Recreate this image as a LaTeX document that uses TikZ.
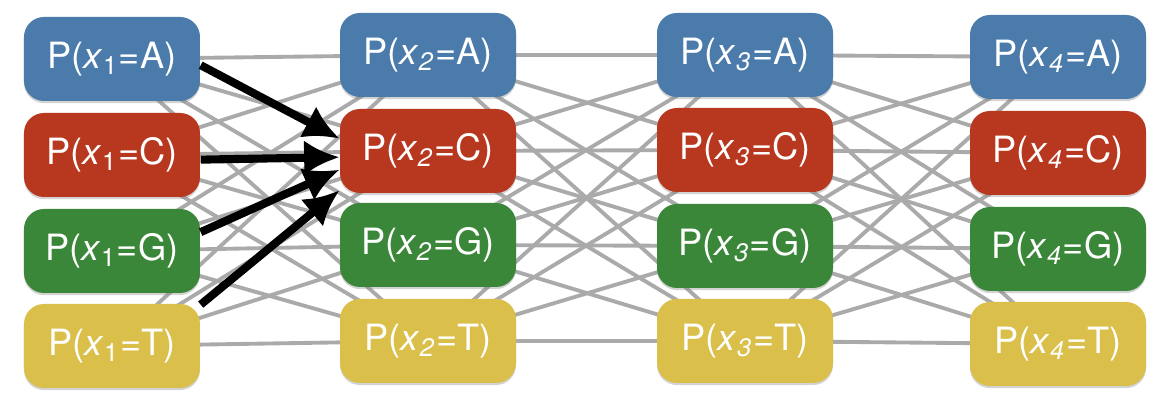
\documentclass[tikz,border=0pt]{standalone}
\usepackage{fontspec}
\setmainfont{TeX Gyre Heros}
\usepackage{tikz}
\usetikzlibrary{arrows.meta,shadows,backgrounds}
\definecolor{baseA}{HTML}{4A7BAA}
\definecolor{baseC}{HTML}{B8371F}
\definecolor{baseG}{HTML}{3B873A}
\definecolor{baseT}{HTML}{DABF4A}
\definecolor{linkgray}{HTML}{AAAAAA}
\newcommand{\xv}[1]{\textit{x}\textsubscript{#1}}

\begin{document}
\begin{tikzpicture}[state/.style={shape=rectangle,rounded corners=0.2cm,minimum width=1.76cm,minimum height=0.84cm,inner sep=0,
							text=white,font=\fontsize{10.3}{12}\selectfont,drop shadow={shadow xshift=0pt,shadow yshift=-0.6pt,opacity=0.35}},
							sA/.style={state,fill=baseA}, sC/.style={state,fill=baseC},
							sG/.style={state,fill=baseG}, sT/.style={state,fill=baseT},
							link/.style={draw=linkgray,line width=1.1pt}, big/.style={->,line width=2.3pt,color=black},
							>={Latex[length=10pt,width=10pt]}]
			\useasboundingbox (0,0) rectangle (11.68,4.08);
			\node[sA] (A1) at (1.12,3.49) {P(\xv{1}=A)};
			\node[sC] (C1) at (1.12,2.53) {P(\xv{1}=C)};
			\node[sG] (G1) at (1.12,1.57) {P(\xv{1}=G)};
			\node[sT] (T1) at (1.12,0.62) {P(\xv{1}=T)};
			\node[sA] (A2) at (4.28,3.53) {P(\xv{\textit{2}}=A)};
			\node[sC] (C2) at (4.28,2.57) {P(\xv{\textit{2}}=C)};
			\node[sG] (G2) at (4.28,1.63) {P(\xv{\textit{2}}=G)};
			\node[sT] (T2) at (4.28,0.67) {P(\xv{\textit{2}}=T)};
			\node[sA] (A3) at (7.45,3.53) {P(\xv{\textit{3}}=A)};
			\node[sC] (C3) at (7.45,2.58) {P(\xv{\textit{3}}=C)};
			\node[sG] (G3) at (7.45,1.62) {P(\xv{\textit{3}}=G)};
			\node[sT] (T3) at (7.45,0.67) {P(\xv{\textit{3}}=T)};
			\node[sA] (A4) at (10.58,3.51) {P(\xv{\textit{4}}=A)};
			\node[sC] (C4) at (10.58,2.55) {P(\xv{\textit{4}}=C)};
			\node[sG] (G4) at (10.58,1.59) {P(\xv{\textit{4}}=G)};
			\node[sT] (T4) at (10.58,0.64) {P(\xv{\textit{4}}=T)};
			\begin{scope}[on background layer]
				\foreach \i/\j in {1/2,2/3,3/4}
					\foreach \a in {A,C,G,T}
						\foreach \b in {A,C,G,T}
							\draw[link] (\a\i.center) to (\b\j.center);
			\end{scope}
			\draw[big] (A1.356) to (C2.172); \draw[big] (C1.357) to (C2.184);
			\draw[big] (G1.12) to (C2.192); \draw[big] (T1.25) to (C2.204);
		\end{tikzpicture}
\end{document}
